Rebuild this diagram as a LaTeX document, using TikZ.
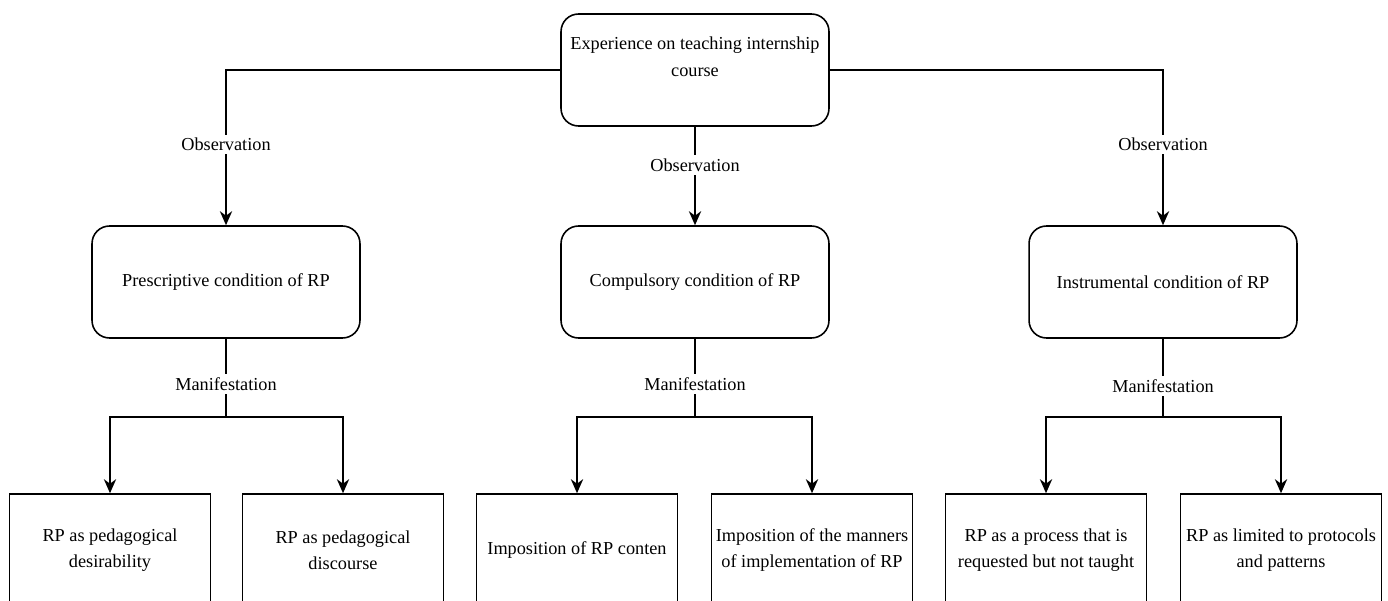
\documentclass[tikz,border=0pt]{standalone}
\usepackage{fontspec}
\setmainfont{Liberation Serif}
\newfontfamily\diagfont{Liberation Serif}
\usetikzlibrary{positioning,arrows.meta}

\begin{document}
\begin{tikzpicture}[x=0.02cm,y=-0.02cm,
  font=\diagfont\fontsize{10.4}{15}\selectfont,
  condbox/.style={draw, line width=0.9pt, rounded corners=0.35cm, minimum width=5.36cm, minimum height=2.24cm, align=center},
  leafbox/.style={draw, line width=0.9pt, minimum width=4.02cm, minimum height=2.24cm, align=center, inner sep=1pt},
  conn/.style={line width=0.9pt},
  arr/.style={conn, -{Stealth[length=8pt,width=7pt]}},
  lbl/.style={fill=white, inner sep=2pt}]
\useasboundingbox (0,0) rectangle (1388,601);
\clip (0,0) rectangle (1388,601);
% top of the tree
\node [condbox] (exp) at (695,70) {Experience on teaching internship\\course\\\mbox{}};
% the three conditions
\node [condbox] (presc) at (226,282) {Prescriptive condition of RP};
\node [condbox] (compul) at (695,282) {Compulsory condition of RP};
\node [condbox] (instr) at (1163,282) {Instrumental condition of RP};
% manifestations
\node [leafbox] (desir) at (110,550) {RP as pedagogical\\desirability};
\node [leafbox] (disc) at (343,550) {RP as pedagogical\\discourse};
\node [leafbox] (content) at (577,550) {Imposition of RP conten};
\node [leafbox] (manner) at (812,550) {Imposition of the manners\\of implementation of RP};
\node [leafbox] (request) at (1046,550) {RP as a process that is\\requested but not taught};
\node [leafbox] (protoc) at (1281,550) {RP as limited to protocols\\and patterns};
\coordinate (psplit) at (226,417);
\coordinate (csplit) at (695,417);
\coordinate (isplit) at (1163,417);
% observation arrows
\draw [arr] (exp.west) -| node [lbl, pos=0.74] {Observation} (presc.north);
\draw [arr] (exp) -- node [lbl, pos=0.39] {Observation} (compul);
\draw [arr] (exp.east) -| node [lbl, pos=0.74] {Observation} (instr.north);
% manifestation branches
\draw [conn] (presc) -- node [lbl, pos=0.58] {Manifestation} (psplit);
\draw [arr] (psplit) -| (desir.north);
\draw [arr] (psplit) -| (disc.north);
\draw [conn] (compul) -- node [lbl, pos=0.58] {Manifestation} (csplit);
\draw [arr] (csplit) -| (content.north);
\draw [arr] (csplit) -| (manner.north);
\draw [conn] (instr) -- node [lbl, pos=0.6] {Manifestation} (isplit);
\draw [arr] (isplit) -| (request.north);
\draw [arr] (isplit) -| (protoc.north);
\end{tikzpicture}
\end{document}
